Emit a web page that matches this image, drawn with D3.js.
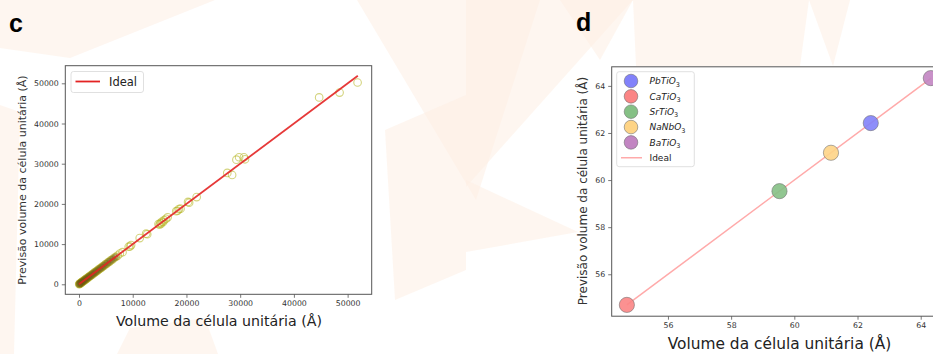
<!DOCTYPE html>
<html>
<head>
<meta charset="utf-8">
<script src="https://cdn.jsdelivr.net/npm/d3@7"></script>
<style>
  html, body { margin: 0; padding: 0; background: #fff; }
  svg { display: block; font-family: "DejaVu Sans", sans-serif; }
</style>
</head>
<body>
<svg id="fig" width="933" height="354"></svg>
<script>
// ---- Panel c: predicted vs. actual unit-cell volume (all structures) ----
const cActual = [
  40, 90, 150, 220, 300, 380, 460, 560, 650, 760, 880, 1000, 1120, 1250, 1380,
  1520, 1660, 1800, 1950, 2100, 2250, 2400, 2560, 2720, 2900, 3080, 3260, 3450,
  3650, 3850, 4050, 4250, 4480, 4700, 4950, 5200, 5450, 5700, 5950, 6250, 6550,
  6850, 7200, 7600, 8100, 9250, 9500, 9700, 11300, 12500, 12700,
  14800, 15000, 15150, 15300, 15450, 15650, 15850, 16200, 16500,
  18100, 18350, 18600, 18900, 20300, 20500, 21900,
  27600, 28500, 29300, 29800, 30700, 30900, 44700, 48500, 51850
];
const cPredicted = [
  60, 70, 170, 200, 330, 360, 490, 530, 690, 720, 910, 970, 1160, 1210, 1420,
  1490, 1700, 1760, 1990, 2060, 2290, 2360, 2600, 2680, 2950, 3030, 3300, 3400,
  3700, 3800, 4100, 4200, 4530, 4650, 5000, 5150, 5500, 5650, 6000, 6200, 6600,
  6800, 7150, 7650, 8000, 9350, 9400, 9750, 11500, 12600, 12450,
  15000, 14850, 15250, 15100, 15600, 15500, 15950, 16300, 16650,
  18200, 18300, 18700, 18800, 20500, 20300, 21700,
  27700, 27200, 31000, 31600, 31600, 31100, 46500, 47700, 50200
];
const cIdeal = [0, 51900];
const cTicks = [0, 10000, 20000, 30000, 40000, 50000];

// ---- Panel d: perovskite oxides ----
const dMaterials = ["PbTiO", "CaTiO", "SrTiO", "NaNbO", "BaTiO"];
const dActual = [62.42, 54.70, 59.53, 61.16, 64.32];
const dPredicted = [62.42, 54.70, 59.53, 61.16, 64.33];
const dColors = ["#8282fa", "#fb8585", "#85c085", "#fed486", "#c285c2"];
const dIdeal = [54.70, 64.33];
const dTicks = [56, 58, 60, 62, 64];

const svg = d3.select("#fig");

// faint logo shapes in the page background
const bgShapes = [
  [[0,0],[215,0],[70,58],[0,48]],
  [[0,105],[20,112],[14,354],[0,354]],
  [[357,0],[540,0],[476,200]],
  [[385,130],[466,95],[466,270],[395,300]],
  [[117,354],[130,328],[205,318],[218,354]],
  [[466,0],[633,0],[466,187]],
  [[466,180],[578,232],[466,252]],
  [[633,0],[809,0],[800,66],[636,66]],
  [[809,0],[850,0],[833,66]],
  [[560,0],[633,0],[600,60]]
];
svg.append("g").selectAll("polygon").data(bgShapes).join("polygon")
  .attr("points", d => d.map(p => p.join(",")).join(" "))
  .attr("fill", "#fdefe4").attr("opacity", 0.55);

const tickColor = "#333";
const spineColor = "#555";

function frame(g, x, y, ticksX, ticksY, fmt) {
  const [x0, x1] = x.range(), [y0, y1] = y.range();
  g.append("rect").attr("x", x0).attr("y", y1).attr("width", x1 - x0).attr("height", y0 - y1)
    .attr("fill", "#fff");
  const ax = g.append("g").attr("transform", `translate(0,${y0})`)
    .call(d3.axisBottom(x).tickValues(ticksX).tickFormat(fmt).tickSizeOuter(0).tickSize(3.5).tickPadding(3));
  const ay = g.append("g").attr("transform", `translate(${x0},0)`)
    .call(d3.axisLeft(y).tickValues(ticksY).tickFormat(fmt).tickSizeOuter(0).tickSize(3.5).tickPadding(3));
  [ax, ay].forEach(a => {
    a.select(".domain").remove();
    a.selectAll("line").attr("stroke", spineColor).attr("stroke-width", 0.8);
    a.selectAll("text").attr("fill", tickColor).attr("font-size", 7.8)
      .attr("font-family", "DejaVu Sans");
  });
  return g;
}

function spines(g, x, y) {
  const [x0, x1] = x.range(), [y0, y1] = y.range();
  g.append("rect").attr("x", x0).attr("y", y1).attr("width", x1 - x0).attr("height", y0 - y1)
    .attr("fill", "none").attr("stroke", spineColor).attr("stroke-width", 1);
}

// ===== Panel c =====
{
  const x = d3.scaleLinear().domain([-2550, 54480]).range([65.3, 371.7]);
  const y = d3.scaleLinear().domain([-2490, 54380]).range([294.3, 65.7]);
  const g = svg.append("g");
  frame(g, x, y, cTicks, cTicks, d3.format("d"));

  const pts = cActual.map((v, i) => [v, cPredicted[i]]);
  g.append("g").selectAll("circle").data(pts).join("circle")
    .attr("cx", d => x(d[0])).attr("cy", d => y(d[1])).attr("r", 3.8)
    .attr("fill", "none").attr("stroke", "#b8b82a").attr("stroke-opacity", 0.6)
    .attr("stroke-width", 1.1);
  // darker smear where the small cells pile up
  g.append("g").selectAll("circle").data(pts.filter(d => d[0] < 7000)).join("circle")
    .attr("cx", d => x(d[0])).attr("cy", d => y(d[1])).attr("r", 3.6)
    .attr("fill", "#6e5a10").attr("fill-opacity", 0.3).attr("stroke", "none");
  g.append("line")
    .attr("x1", x(cIdeal[0])).attr("y1", y(cIdeal[0]))
    .attr("x2", x(cIdeal[1])).attr("y2", y(cIdeal[1]))
    .attr("stroke", "#e32323").attr("stroke-width", 1.8).attr("stroke-opacity", 0.9);
  spines(g, x, y);

  // legend
  const lg = g.append("g");
  lg.append("rect").attr("x", 71).attr("y", 71.5).attr("width", 72.5).attr("height", 21)
    .attr("rx", 2.5).attr("fill", "#fff").attr("fill-opacity", 0.85)
    .attr("stroke", "#d8d8d8").attr("stroke-width", 0.8);
  lg.append("line").attr("x1", 75.5).attr("x2", 100).attr("y1", 81.5).attr("y2", 81.5)
    .attr("stroke", "#e32323").attr("stroke-width", 1.8);
  lg.append("text").attr("x", 109).attr("y", 86).attr("font-size", 11.5)
    .attr("fill", "#222").text("Ideal");

  g.append("text").attr("x", 219).attr("y", 326).attr("text-anchor", "middle")
    .attr("font-size", 14.2).attr("fill", "#222").text("Volume da célula unitária (Å)");
  g.append("text").attr("transform", "translate(25.5,180) rotate(-90)")
    .attr("text-anchor", "middle").attr("font-size", 11).attr("fill", "#333")
    .text("Previsão volume da célula unitária (Å)");
}

// ===== Panel d =====
{
  const x = d3.scaleLinear().domain([54.22, 64.81]).range([611.7, 946.3]);
  const y = d3.scaleLinear().domain([54.22, 64.81]).range([316.2, 66.8]);
  const g = svg.append("g");
  frame(g, x, y, dTicks, dTicks, d3.format("d"));

  g.append("line")
    .attr("x1", x(dIdeal[0])).attr("y1", y(dIdeal[0]))
    .attr("x2", x(dIdeal[1])).attr("y2", y(dIdeal[1]))
    .attr("stroke", "#ffaaaa").attr("stroke-width", 1.5);
  g.append("g").selectAll("circle").data(dMaterials).join("circle")
    .attr("cx", (d, i) => x(dActual[i])).attr("cy", (d, i) => y(dPredicted[i])).attr("r", 7.6)
    .attr("fill", (d, i) => dColors[i]).attr("fill-opacity", 0.9)
    .attr("stroke", "#6a6a6a").attr("stroke-opacity", 0.55).attr("stroke-width", 1);
  spines(g, x, y);

  // legend
  const lg = g.append("g");
  lg.append("rect").attr("x", 616.7).attr("y", 71.7).attr("width", 77.6).attr("height", 95)
    .attr("rx", 2.5).attr("fill", "#fff").attr("fill-opacity", 0.85)
    .attr("stroke", "#d8d8d8").attr("stroke-width", 0.8);
  const rows = dMaterials.map((m, i) => ({ m, c: dColors[i], yy: 81 + i * 15.35 }));
  rows.forEach(r => {
    lg.append("circle").attr("cx", 631).attr("cy", r.yy).attr("r", 6.8)
      .attr("fill", r.c).attr("stroke", "#6a6a6a").attr("stroke-opacity", 0.55);
    const t = lg.append("text").attr("x", 649.5).attr("y", r.yy + 3.3)
      .attr("font-size", 9).attr("fill", "#222");
    t.append("tspan").attr("font-style", "italic").text(r.m);
    t.append("tspan").attr("font-size", 6.5).attr("dy", 2.2).text("3");
  });
  const iy = 81 + 5 * 15.35;
  lg.append("line").attr("x1", 621).attr("x2", 642).attr("y1", iy).attr("y2", iy)
    .attr("stroke", "#ffaaaa").attr("stroke-width", 1.5);
  lg.append("text").attr("x", 649.5).attr("y", iy + 3.3).attr("font-size", 9)
    .attr("fill", "#222").text("Ideal");

  g.append("text").attr("x", 779.5).attr("y", 349).attr("text-anchor", "middle")
    .attr("font-size", 15.4).attr("fill", "#222").text("Volume da célula unitária (Å)");
  g.append("text").attr("transform", "translate(587,191) rotate(-90)")
    .attr("text-anchor", "middle").attr("font-size", 12).attr("fill", "#333")
    .text("Previsão volume da célula unitária (Å)");
}

// panel letters
svg.append("text").attr("x", 9).attr("y", 32).attr("font-family", "Liberation Sans, Arial, sans-serif")
  .attr("font-weight", "bold").attr("font-size", 25).attr("fill", "#000").text("c");
svg.append("text").attr("x", 576).attr("y", 31).attr("font-family", "Liberation Sans, Arial, sans-serif")
  .attr("font-weight", "bold").attr("font-size", 25).attr("fill", "#000").text("d");
</script>
</body>
</html>
